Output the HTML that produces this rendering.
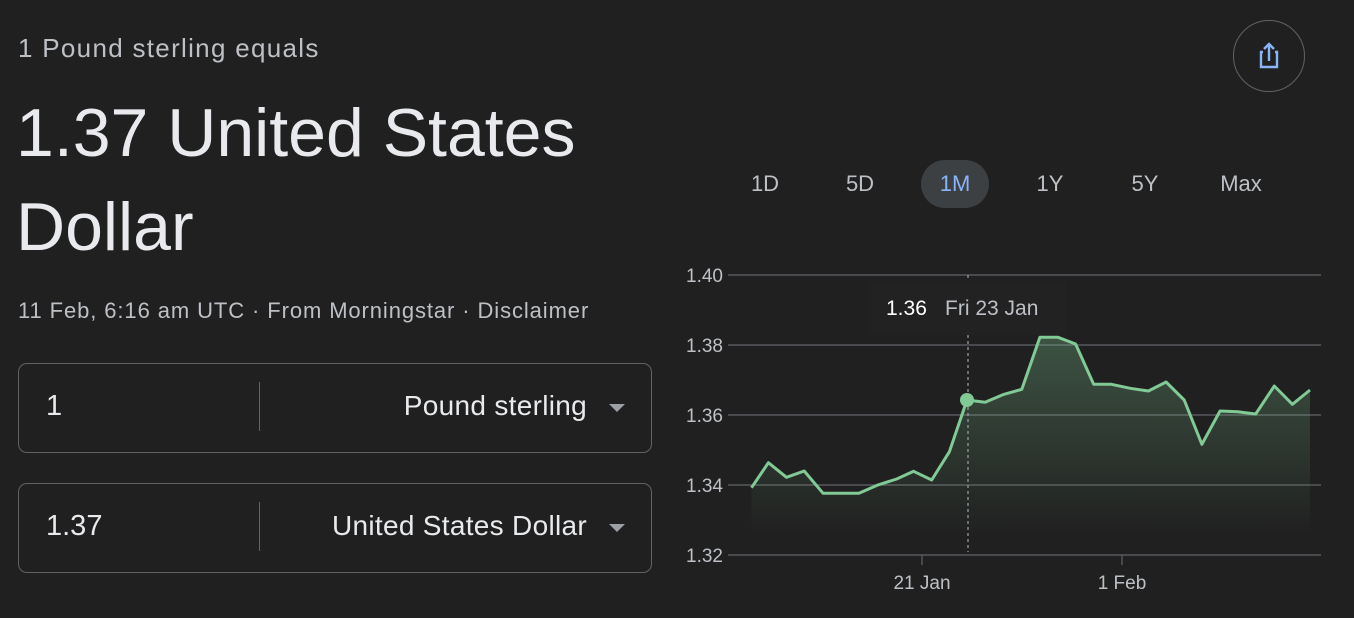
<!DOCTYPE html>
<html><head><meta charset="utf-8"><style>
body{margin:0;width:1354px;height:618px;background:#202020;font-family:"Liberation Sans",sans-serif;overflow:hidden;position:relative;color:#e8eaed}
.a{position:absolute;white-space:nowrap}
.box{position:absolute;left:18px;width:632px;height:88px;border:1px solid #5f6368;border-radius:9px}
.div{position:absolute;left:240px;top:18px;width:1px;height:49px;background:#5f6368}
.v{position:absolute;left:27px;top:26px;font-size:29px;color:#e8eaed}
.c{position:absolute;right:64px;top:26px;font-size:28px;color:#e8eaed;letter-spacing:0.3px}
.tri{position:absolute;right:26px;top:40px;width:0;height:0;border-left:8px solid transparent;border-right:8px solid transparent;border-top:8px solid #9aa0a6}
.btn{position:absolute;top:171px;font-size:22px;color:#bdc1c6;width:68px;text-align:center}
</style></head><body>
<div class="a" style="left:18px;top:33px;font-size:26px;color:#bdc1c6;letter-spacing:1.3px">1 Pound sterling equals</div>
<div class="a" style="left:16px;top:86px;font-size:68px;line-height:94px;color:#e8eaed">1.37 United States<br>Dollar</div>
<div class="a" style="left:18px;top:298px;font-size:22px;color:#bdc1c6;letter-spacing:0.9px">11 Feb, 6:16 am UTC · From Morningstar · Disclaimer</div>
<div class="box" style="top:363px"><div class="v">1</div><div class="div"></div><div class="c">Pound sterling</div><div class="tri"></div></div>
<div class="box" style="top:483px"><div class="v">1.37</div><div class="div"></div><div class="c">United States Dollar</div><div class="tri"></div></div>

<div style="position:absolute;left:1233px;top:20px;width:70px;height:70px;border:1.5px solid #5f6368;border-radius:50%"></div>
<svg class="a" style="left:1254px;top:40px" width="30" height="32" viewBox="0 0 30 32"><path d="M9 12H7v15h16V12h-2" fill="none" stroke="#8ab4f8" stroke-width="2.4"/><path d="M15 21V4M10 9l5-5 5 5" fill="none" stroke="#8ab4f8" stroke-width="2.4"/></svg>

<div style="position:absolute;left:921px;top:160px;width:68px;height:48px;border-radius:24px;background:#3c4043"></div>
<div class="btn" style="left:731px">1D</div>
<div class="btn" style="left:826px">5D</div>
<div class="btn" style="left:921px;color:#8ab4f8">1M</div>
<div class="btn" style="left:1016px">1Y</div>
<div class="btn" style="left:1111px">5Y</div>
<div class="btn" style="left:1207px">Max</div>

<svg class="a" style="left:0;top:0" width="1354" height="618">
<defs><linearGradient id="g" x1="0" y1="0" x2="0" y2="1"><stop offset="0" stop-color="#81c995" stop-opacity="0.3"/><stop offset="1" stop-color="#81c995" stop-opacity="0"/></linearGradient></defs>
<g stroke="#5f6368" stroke-width="1.2">
<line x1="728" y1="275" x2="1321" y2="275"/><line x1="728" y1="345" x2="1321" y2="345"/><line x1="728" y1="415" x2="1321" y2="415"/><line x1="728" y1="485" x2="1321" y2="485"/><line x1="728" y1="555" x2="1321" y2="555"/>
<line x1="922" y1="555" x2="922" y2="565"/><line x1="1122" y1="555" x2="1122" y2="565"/>
</g>
<g font-size="19" fill="#bdc1c6" font-family="Liberation Sans">
<text x="686" y="282">1.40</text><text x="686" y="352">1.38</text><text x="686" y="422">1.36</text><text x="686" y="492">1.34</text><text x="686" y="562">1.32</text>
<text x="922" y="589" text-anchor="middle">21 Jan</text><text x="1122" y="589" text-anchor="middle">1 Feb</text>
</g>
<path d="M751.5,487.7 768.4,462.7 786.5,477.3 804.2,471 823.1,493.3 858.9,493.3 877.8,485 896.7,479 913.6,471.3 931.7,480 949.4,451.7 967,400 985.1,402.3 1004,394.3 1021.8,389.3 1039.9,337.3 1058,337.3 1075.6,344 1093.7,384.3 1111.4,384.3 1130.3,388.3 1148.4,391 1166.1,382 1184.2,400 1201.9,444.3 1220,411 1237.7,411.7 1255.7,414 1274.3,386 1292.4,404.3 1310,390 L1310,535 751.5,535Z" fill="url(#g)"/>
<line x1="968" y1="275" x2="968" y2="552" stroke="#9aa0a6" stroke-width="1.2" stroke-dasharray="3,3"/>
<polyline fill="none" stroke="#81c995" stroke-width="3" stroke-linejoin="round" points="751.5,487.7 768.4,462.7 786.5,477.3 804.2,471 823.1,493.3 858.9,493.3 877.8,485 896.7,479 913.6,471.3 931.7,480 949.4,451.7 967,400 985.1,402.3 1004,394.3 1021.8,389.3 1039.9,337.3 1058,337.3 1075.6,344 1093.7,384.3 1111.4,384.3 1130.3,388.3 1148.4,391 1166.1,382 1184.2,400 1201.9,444.3 1220,411 1237.7,411.7 1255.7,414 1274.3,386 1292.4,404.3 1310,390"/>
<circle cx="967" cy="400" r="7" fill="#81c995"/>
<rect x="868" y="281" width="198" height="54" fill="#222222"/>
<text x="886" y="315" font-size="21" fill="#ffffff" font-family="Liberation Sans">1.36</text>
<text x="945" y="315" font-size="21" fill="#bdc1c6" font-family="Liberation Sans">Fri 23 Jan</text>
</svg>
</body></html>
